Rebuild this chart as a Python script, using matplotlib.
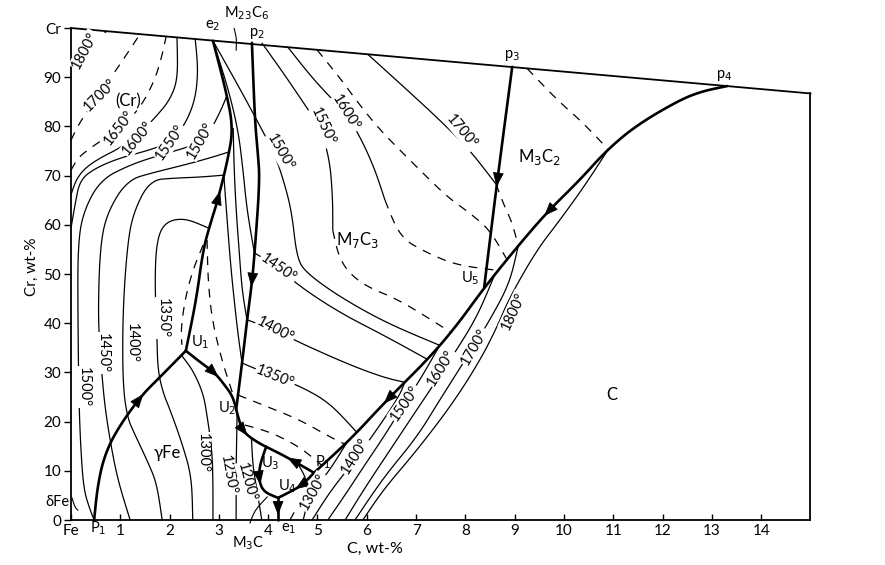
import numpy as np
import matplotlib
matplotlib.use('Agg')
import matplotlib.pyplot as plt

plt.rcParams['font.family'] = ['Lato', 'DejaVu Sans']
plt.rcParams['mathtext.fontset'] = 'dejavusans'

# ---------------- axes / ticks ----------------
C_MAX = 15.0
CR_TOP_LEFT = 100.0
CR_TOP_RIGHT = 86.7
x_ticks = list(range(0, 15))
x_tick_labels = ['Fe'] + [str(i) for i in range(1, 15)]
y_ticks = list(range(0, 101, 10))
y_tick_labels = [str(i) for i in range(0, 100, 10)] + ['Cr']

# ---------------- univariant lines (C wt-%, Cr wt-%) ----------------
p1_U1_C = [0.47, 0.53, 0.65, 0.89, 1.40, 1.81, 2.33]
p1_U1_Cr = [0.0, 6.1, 12.2, 17.7, 25.0, 29.1, 34.4]
U1_e2_C = [2.33, 2.54, 2.68, 2.82, 2.98, 3.18, 3.29, 3.14, 2.88]
U1_e2_Cr = [34.4, 44.7, 54.9, 60.0, 65.1, 73.2, 79.7, 87.4, 97.4]
U1_P1_C = [2.33, 2.62, 2.92, 3.12, 3.29, 3.39, 3.49, 3.79, 4.18, 4.48, 4.93]
U1_P1_Cr = [34.4, 32.1, 29.9, 27.4, 25.0, 20.9, 17.9, 15.7, 13.8, 12.2, 9.6]
p2_U2_C = [3.67, 3.73, 3.79, 3.83, 3.73, 3.67, 3.59, 3.47, 3.35]
p2_U2_Cr = [97.0, 81.3, 74.6, 69.1, 54.9, 48.2, 42.1, 31.9, 22.4]
P1_p4_C = [4.93, 5.66, 6.41, 7.28, 7.83, 8.38, 9.05, 9.66, 10.32, 10.87, 11.48, 12.35, 12.82, 13.31]
P1_p4_Cr = [9.6, 16.3, 24.4, 33.1, 39.6, 47.2, 55.5, 62.6, 69.1, 75.2, 80.3, 85.4, 87.2, 88.2]
p3_U5_C = [8.95, 8.64, 8.38]
p3_U5_Cr = [92.1, 68.5, 47.2]
P1_U4_C = [4.93, 4.69, 4.44, 4.20]
P1_U4_Cr = [9.6, 7.1, 5.7, 4.5]
U3_U4_C = [3.96, 3.83, 3.81, 3.91, 4.20]
U3_U4_Cr = [14.9, 11.2, 8.1, 5.7, 4.5]
U4_e1_C = [4.20, 4.20]
U4_e1_Cr = [4.5, 0.0]

# ---------------- liquidus isotherms ----------------
iso_cr1800 = ([0.0, 0.28, 0.51, 0.73], [92.0, 95.9, 98.0, 99.35])
iso_cr1700 = ([0.0, 0.18, 0.59, 0.89, 1.16, 1.40], [77.2, 80.9, 86.8, 91.1, 95.1, 98.76])
iso_cr1650 = ([0.0, 0.14, 0.39, 0.69, 0.97, 1.40, 1.70, 1.85, 1.93],
              [71.1, 73.6, 75.6, 77.6, 79.3, 83.7, 89.4, 94.5, 98.29])
iso_cr1600 = ([0.0, 0.10, 0.28, 0.59, 0.99, 1.36, 1.70, 2.01, 2.17, 2.15],
              [66.1, 69.1, 71.5, 73.6, 75.6, 78.3, 81.7, 85.4, 89.8, 98.09])
iso_cr1550 = ([0.0, 0.08, 0.18, 0.49, 0.99, 1.60, 2.01, 2.31, 2.52, 2.58, 2.52],
              [59.3, 64.0, 69.1, 71.5, 73.6, 75.2, 76.8, 80.3, 85.4, 91.5, 97.76])
iso_1500 = ([0.47, 0.39, 0.26, 0.20, 0.16, 0.14, 0.14, 0.24, 0.59, 1.20, 1.81, 2.31, 2.62, 2.86, 3.06, 3.16],
            [0.0, 2.0, 6.1, 14.2, 24.4, 42.1, 55.5, 62.4, 69.1, 72.2, 74.2, 75.6, 76.8, 79.7, 83.7, 86.2])
iso_1450 = ([1.20, 0.95, 0.79, 0.67, 0.59, 0.55, 0.59, 0.73, 1.14, 1.70, 2.31, 2.82, 3.20],
            [0.0, 8.1, 16.3, 24.4, 34.6, 42.1, 55.5, 62.4, 69.1, 70.7, 72.2, 73.6, 74.8])
iso_1400 = ([1.85, 1.74, 1.54, 1.30, 1.14, 1.05, 1.05, 1.14, 1.26, 1.60, 2.11, 2.62, 3.10],
            [0.0, 7.5, 12.2, 17.3, 20.9, 27.8, 42.1, 55.5, 62.4, 69.1, 69.5, 69.7, 70.1])
iso_1350 = ([2.47, 2.45, 2.25, 2.01, 1.87, 1.76, 1.74, 1.70, 1.74, 1.91, 2.31, 2.80],
            [0.0, 8.7, 15.7, 22.4, 25.8, 30.5, 38.6, 48.8, 56.9, 60.6, 61.4, 59.3])
iso_1300 = ([2.88, 2.88, 2.86, 2.76, 2.68, 2.47, 2.24], [0.0, 8.1, 14.2, 21.3, 25.8, 30.5, 33.5])
iso_1250 = ([3.37, 3.36, 3.35, 3.35], [21.6, 16.3, 10.2, 0.0])
iso_1200 = ([3.66, 3.69, 3.79, 3.87], [16.7, 10.8, 5.1, 0.0])
iso_loop = ([4.60, 4.79, 4.81, 4.71], [11.5, 8.1, 4.1, 0.0])
m23_a = ([2.88, 3.18, 3.39, 3.49, 3.57, 3.72], [97.4, 88.0, 79.3, 71.1, 63.0, 54.3])
m23_b = ([3.29, 3.31, 3.35, 3.41, 3.47, 3.57], [79.7, 71.1, 63.0, 54.9, 46.7, 40.7])
m23_c = ([3.10, 3.16, 3.23, 3.31, 3.39, 3.47], [70.1, 62.0, 52.8, 44.7, 37.6, 31.9])
m_1500 = ([2.88, 3.33, 3.77, 4.14, 4.34, 4.48, 4.58, 4.75, 5.46, 6.41, 7.48],
          [97.4, 89.4, 81.3, 74.2, 68.1, 62.4, 53.5, 50.4, 45.3, 40.0, 35.5])
m_1550 = ([3.87, 4.34, 4.75, 5.05, 5.25, 5.31, 5.31], [97.0, 90.4, 84.3, 79.9, 73.2, 65.0, 58.9])
m_1550d = ([5.31, 5.42, 5.62, 6.00, 6.67, 7.70], [58.9, 53.9, 50.4, 47.4, 44.7, 38.2])
m_1600 = ([4.40, 4.85, 5.25, 5.58, 5.90, 6.17, 6.37], [96.1, 90.4, 86.0, 82.7, 77.2, 71.1, 65.0])
m_1600d = ([6.37, 6.67, 7.22, 7.83, 8.60], [65.0, 57.5, 54.3, 51.8, 50.8])
m_1650d = ([4.99, 5.46, 5.86, 6.27, 6.67, 7.08, 7.63, 8.09, 8.50, 8.84],
           [95.57, 89.8, 84.3, 79.3, 75.2, 71.1, 65.7, 62.4, 58.9, 53.0])
m_1700 = ([6.02, 6.82, 7.48, 8.09, 8.62], [94.66, 87.4, 81.3, 75.2, 68.3])
m_1700d = ([8.62, 8.80, 8.95, 9.07], [68.3, 63.6, 60.4, 55.8])
m_1800d = ([9.25, 9.86, 10.39, 10.89], [91.8, 85.4, 80.7, 75.4])
m_1450 = ([3.72, 4.14, 4.65, 5.46, 6.41, 7.24], [54.3, 51.8, 47.4, 42.1, 37.2, 32.6])
m_1400 = ([3.57, 4.14, 4.65, 5.66, 6.37, 6.77], [40.7, 38.6, 36.0, 31.5, 28.9, 28.0])
m_1350 = ([3.47, 4.04, 4.65, 5.25, 5.80], [31.9, 29.5, 27.2, 23.8, 17.8])
dash_d1 = ([3.39, 4.04, 4.65, 5.25, 5.56], [25.4, 22.8, 20.3, 16.9, 15.4])
dash_d2 = ([3.53, 4.04, 4.65, 5.09], [19.3, 17.9, 14.8, 11.1])
dash_da = ([2.68, 2.47, 2.31, 2.23, 2.25], [55.9, 50.8, 44.7, 38.6, 35.6])
dash_db = ([2.76, 2.78, 2.86, 3.06, 3.27], [56.9, 48.8, 40.7, 32.5, 26.0])
c_1300d = ([4.44, 4.62], [0.0, 3.2])
c_1300 = ([4.62, 5.01, 5.29, 5.58], [3.2, 7.1, 10.8, 15.5])
c_1400 = ([4.89, 5.25, 5.76, 6.27, 6.67, 6.77], [0.0, 5.7, 12.2, 19.3, 25.4, 28.0])
c_1500 = ([5.21, 5.56, 5.96, 6.37, 6.77, 7.08, 7.48], [0.0, 5.1, 11.2, 17.3, 23.8, 28.5, 35.5])
c_1600 = ([5.56, 5.96, 6.47, 7.08, 7.69, 8.24, 8.60], [0.0, 6.5, 14.2, 23.4, 32.5, 41.3, 50.0])
c_1700 = ([5.76, 6.33, 7.02, 7.48, 8.03, 8.50, 8.90, 9.07], [0.0, 8.5, 16.9, 24.4, 33.1, 40.7, 48.2, 55.6])
c_1800 = ([5.92, 6.33, 7.02, 7.75, 8.30, 8.64, 8.90, 9.45, 9.92, 10.43, 10.89],
          [0.0, 6.1, 14.2, 23.8, 32.5, 39.2, 45.3, 54.9, 61.0, 68.1, 75.2])
lead_m23c6 = ([3.31, 3.36, 3.35], [99.9, 97.8, 95.5])
lead_m3c = ([3.63, 3.73, 3.98], [-0.6, 2.0, 4.7])
lead_dfe = ([0.02, 0.08, 0.14], [4.5, 2.6, 2.0])

solid_isos = [iso_cr1600, iso_cr1550, iso_1500, iso_1450, iso_1400, iso_1350, iso_1300,
              iso_1250, iso_1200, iso_loop, m23_a, m23_b, m23_c, m_1500, m_1550, m_1600,
              m_1700, m_1450, m_1400, m_1350, c_1300, c_1400, c_1500, c_1600, c_1700, c_1800]
dashed_isos = [iso_cr1800, iso_cr1700, iso_cr1650, m_1550d, m_1600d, m_1650d, m_1700d,
               m_1800d, dash_d1, dash_d2, dash_da, dash_db, c_1300d]
thick_lines = [(p1_U1_C, p1_U1_Cr), (U1_e2_C, U1_e2_Cr), (U1_P1_C, U1_P1_Cr),
               (p2_U2_C, p2_U2_Cr), (P1_p4_C, P1_p4_Cr), (p3_U5_C, p3_U5_Cr),
               (P1_U4_C, P1_U4_Cr), (U3_U4_C, U3_U4_Cr), (U4_e1_C, U4_e1_Cr)]
# arrows: (line index, fraction of length, forward?)
arrows = [(0, 0.67, True), (1, 0.50, True), (2, 0.20, True), (2, 0.56, True), (2, 0.86, False),
          (3, 0.65, True), (4, 0.18, False), (4, 0.61, False), (5, 0.52, True),
          (6, 0.45, True), (7, 0.55, True), (8, 0.55, True)]

# isotherm labels: (text, C, Cr, rotation)
iso_labels = [
    ('1800°', 0.28, 95.5, 62), ('1700°', 0.59, 86.4, 45), ('1650°', 0.97, 79.7, 52),
    ('1600°', 1.36, 77.6, 50), ('1550°', 2.01, 76.8, 55), ('1500°', 2.62, 77.2, 60),
    ('1500°', 0.26, 27.0, -90), ('1450°', 0.65, 33.9, -90), ('1400°', 1.24, 36.0, -90),
    ('1350°', 1.87, 41.1, -90), ('1300°', 2.68, 13.6, -90), ('1250°', 3.18, 9.1, -80),
    ('1200°', 3.57, 7.7, -75),
    ('1500°', 4.24, 74.8, -60), ('1550°', 5.11, 79.9, -65), ('1600°', 5.58, 82.7, -58),
    ('1700°', 7.93, 78.9, -50), ('1450°', 4.20, 51.2, -35), ('1400°', 4.14, 38.6, -28),
    ('1350°', 4.14, 29.1, -22),
    ('1300°', 4.91, 5.7, 60), ('1400°', 5.76, 13.0, 58), ('1500°', 6.77, 23.8, 55),
    ('1600°', 7.51, 30.9, 58), ('1700°', 8.19, 35.2, 60), ('1800°', 8.97, 42.5, 65),
]
phase_labels = [
    ('(Cr)', 1.16, 85.0), (r'M$_7$C$_3$', 5.82, 56.9), (r'M$_3$C$_2$', 9.51, 73.8),
    ('C', 10.97, 25.4), ('γFe', 1.95, 13.6),
]
point_labels = [
    (r'e$_2$', 2.88, 100.4), (r'M$_{23}$C$_6$', 3.57, 103.0), (r'p$_2$', 3.77, 98.9),
    (r'p$_3$', 8.95, 94.5), (r'p$_4$', 13.25, 90.4), (r'U$_1$', 2.62, 36.2),
    (r'U$_2$', 3.16, 22.8), (r'U$_3$', 4.04, 11.6), (r'U$_4$', 4.38, 6.9),
    (r'P$_1$', 5.12, 11.8), (r'U$_5$', 8.09, 49.2),
    (r'e$_1$', 4.42, -1.7), (r'M$_3$C', 3.59, -4.7), (r'P$_1$', 0.55, -1.7), ('δFe', -0.28, 3.6),
]


def smooth(xs, ys, n=3):
    """Chaikin corner cutting; keeps the end points."""
    pts = np.column_stack([xs, ys]).astype(float)
    for _ in range(n):
        if len(pts) < 3:
            break
        q = 0.75 * pts[:-1] + 0.25 * pts[1:]
        r = 0.25 * pts[:-1] + 0.75 * pts[1:]
        mid = np.empty((2 * len(q), 2))
        mid[0::2] = q
        mid[1::2] = r
        pts = np.vstack([pts[0], mid[1:-1], pts[-1]])
    return pts[:, 0], pts[:, 1]


# ---------------- figure ----------------
fig = plt.figure(figsize=(8.85, 5.65), dpi=100)
ax = fig.add_axes([0.0802, 0.0796, 0.8356, 0.8795])
ax.set_xlim(0, C_MAX)
ax.set_ylim(0, 101)

for s in ['top', 'right']:
    ax.spines[s].set_visible(False)
ax.spines['left'].set_bounds(0, CR_TOP_LEFT)
ax.spines['left'].set_linewidth(1.3)
ax.spines['bottom'].set_linewidth(1.3)
ax.plot([0, C_MAX], [CR_TOP_LEFT, CR_TOP_RIGHT], color='black', lw=1.3, clip_on=False)
ax.plot([C_MAX, C_MAX], [0, CR_TOP_RIGHT], color='black', lw=1.3, clip_on=False)

ax.set_xticks(x_ticks)
ax.set_xticklabels(x_tick_labels, fontsize=11)
ax.set_yticks(y_ticks)
ax.set_yticklabels(y_tick_labels, fontsize=11)
ax.tick_params(axis='x', direction='in', length=4, width=1, pad=3)
ax.tick_params(axis='y', direction='out', length=5, width=1, pad=2)

ax.text(6.17, -5.8, 'C, wt-%', fontsize=11.5, ha='center', va='center', clip_on=False)
ax.text(-0.79, 51.4, 'Cr, wt-%', fontsize=11, ha='center', va='center', rotation=90, clip_on=False)

for xs, ys in solid_isos:
    sx, sy = smooth(xs, ys)
    ax.plot(sx, sy, color='black', lw=0.9, solid_capstyle='butt', clip_on=False)
for xs, ys in dashed_isos:
    sx, sy = smooth(xs, ys)
    ax.plot(sx, sy, color='black', lw=0.9, linestyle=(0, (7, 6)), clip_on=False)
smooth_thick = [smooth(xs, ys) for xs, ys in thick_lines]
for sx, sy in smooth_thick:
    ax.plot(sx, sy, color='black', lw=1.9, solid_capstyle='round', clip_on=False)
for xs, ys in [lead_m23c6, lead_m3c, lead_dfe]:
    sx, sy = smooth(xs, ys)
    ax.plot(sx, sy, color='black', lw=0.8, clip_on=False)


def add_arrow(xs, ys, frac, forward):
    pts = ax.transData.transform(np.column_stack([xs, ys]))
    seg = np.diff(pts, axis=0)
    L = np.hypot(seg[:, 0], seg[:, 1])
    cum = np.concatenate([[0], np.cumsum(L)])
    s = frac * cum[-1]
    i = int(np.clip(np.searchsorted(cum, s) - 1, 0, len(L) - 1))
    t = (s - cum[i]) / L[i]
    p = pts[i] + t * seg[i]
    d = seg[i] / L[i]
    if not forward:
        d = -d
    inv = ax.transData.inverted()
    tip = inv.transform(p + d * 5)
    tail = inv.transform(p - d * 5)
    ax.annotate('', xy=tip, xytext=tail,
                arrowprops=dict(arrowstyle='-|>,head_length=0.9,head_width=0.35',
                                color='black', lw=0.6, shrinkA=0, shrinkB=0))


for idx, frac, fwd in arrows:
    add_arrow(smooth_thick[idx][0], smooth_thick[idx][1], frac, fwd)

box = dict(boxstyle='square,pad=0.06', fc='white', ec='none')
for txt, x, y, rot in iso_labels:
    ax.text(x, y, txt, fontsize=10.5, rotation=rot, ha='center', va='center',
            rotation_mode='anchor', bbox=box, zorder=5)
for txt, x, y in phase_labels:
    ax.text(x, y, txt, fontsize=12, ha='center', va='center', zorder=5)
for txt, x, y in point_labels:
    ax.text(x, y, txt, fontsize=10.5, ha='center', va='center', zorder=5, clip_on=False)

fig.savefig('out.png', dpi=100, facecolor='white')
